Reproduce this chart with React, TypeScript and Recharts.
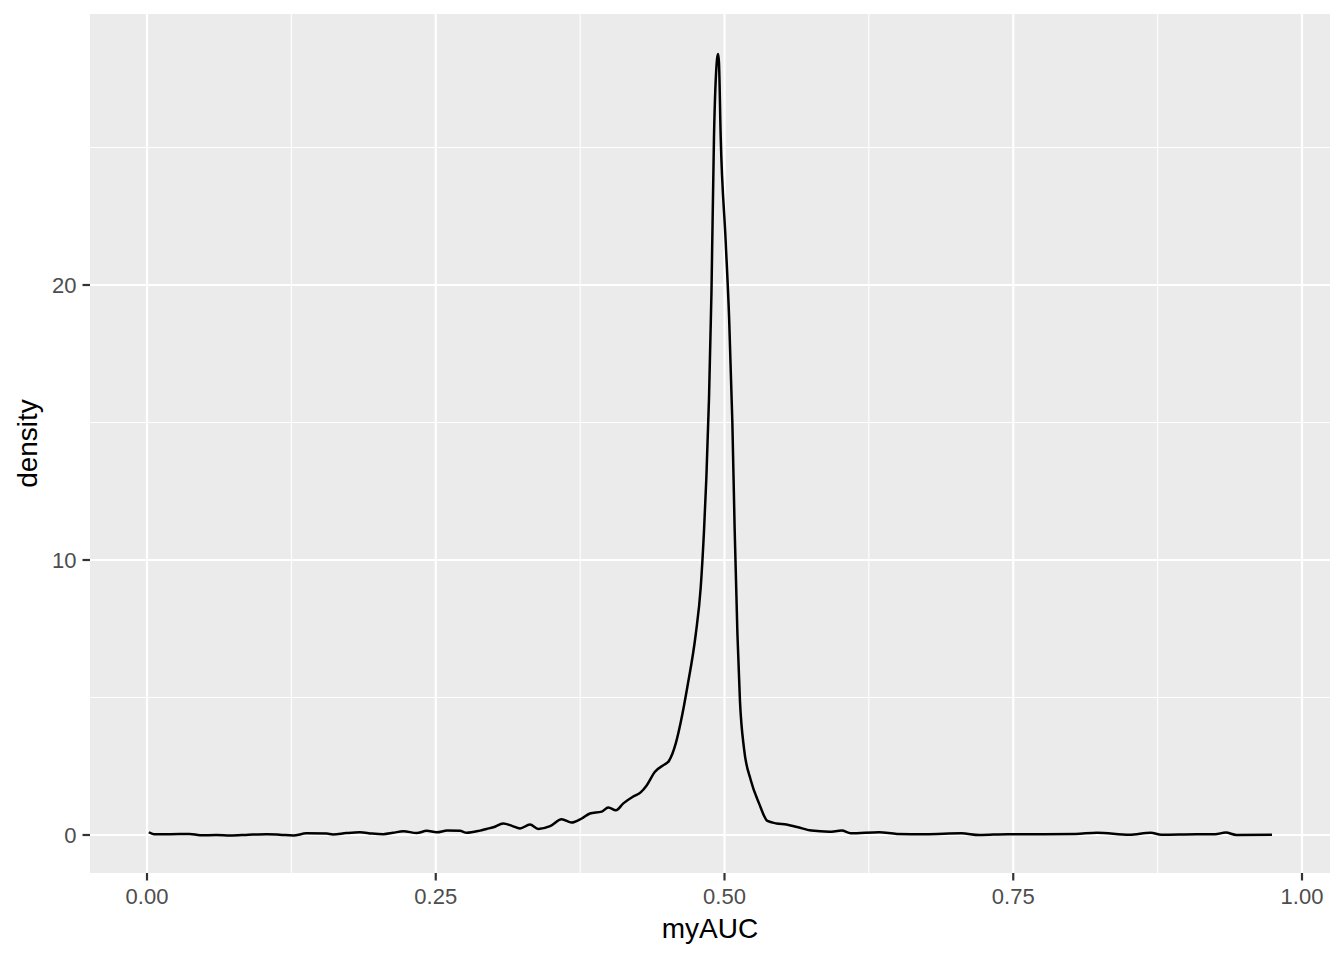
import { LineChart, Line, XAxis, YAxis, CartesianGrid, ReferenceLine, Label } from 'recharts';

const myAUC = [
  0.0016, 0.006, 0.02, 0.037, 0.046, 0.06, 0.072, 0.088, 0.1036, 0.115,
  0.1267, 0.138, 0.1556, 0.161, 0.1725, 0.1844, 0.195, 0.2046, 0.213, 0.222,
  0.2335, 0.2422, 0.2508, 0.26, 0.271, 0.2768, 0.2883, 0.294, 0.2998, 0.3085,
  0.316, 0.323, 0.3316, 0.3388, 0.349, 0.359, 0.3677, 0.3764, 0.3835, 0.3937,
  0.3994, 0.406, 0.4124, 0.421, 0.4274, 0.4326, 0.4398, 0.4475, 0.452, 0.4578,
  0.4621, 0.4679, 0.4751, 0.4794, 0.4823, 0.4843, 0.4866, 0.4887, 0.4909, 0.4935,
  0.4944, 0.4952, 0.4967, 0.501, 0.504, 0.5068, 0.5088, 0.5112, 0.5134, 0.5169,
  0.5227, 0.53, 0.5371, 0.5452, 0.5536, 0.5628, 0.5752, 0.5907, 0.6015, 0.6093,
  0.634, 0.6494, 0.674, 0.705, 0.7206, 0.7454, 0.7763, 0.804, 0.8225, 0.8505,
  0.869, 0.8783, 0.9091, 0.9247, 0.934, 0.9432, 0.974,
];

const density = [
  0.1, 0.03, 0.03, 0.04, -0.01, 0.0, -0.02, 0.01, 0.03, 0.01,
  -0.02, 0.06, 0.05, 0.02, 0.07, 0.1, 0.05, 0.03, 0.08, 0.14,
  0.07, 0.15, 0.1, 0.16, 0.15, 0.08, 0.16, 0.22, 0.28, 0.42,
  0.33, 0.24, 0.38, 0.22, 0.32, 0.57, 0.45, 0.6, 0.78, 0.85,
  1.0, 0.9, 1.15, 1.4, 1.55, 1.8, 2.3, 2.55, 2.7, 3.33,
  4.1, 5.4, 7.3, 9.0, 11.1, 13.0, 15.9, 19.7, 25.4, 28.2,
  28.4, 28.1, 25.4, 21.6, 18.8, 15.0, 11.1, 7.3, 4.86, 3.14,
  2.0, 1.14, 0.51, 0.42, 0.38, 0.29, 0.16, 0.12, 0.16, 0.06,
  0.1, 0.04, 0.03, 0.06, 0.0, 0.03, 0.03, 0.04, 0.08, 0.01,
  0.08, 0.01, 0.03, 0.03, 0.09, 0.0, 0.01,
];

const xTicks = [0, 0.25, 0.5, 0.75, 1];
const xMinor = [0.125, 0.375, 0.625, 0.875];
const yTicks = [0, 10, 20];
const yMinor = [5, 15, 25];

const data = myAUC.map((x, i) => ({ myAUC: x, density: density[i] }));

const font = '"Liberation Sans", Arial, sans-serif';

// rotated y title, baseline on the right side
function YTitle(props: any) {
  const vb = props.viewBox;
  const cx = 37;
  const cy = vb.y + vb.height / 2;
  return (
    <text
      x={cx}
      y={cy}
      transform={`rotate(-90, ${cx}, ${cy})`}
      textAnchor="middle"
      fontSize={28}
      fontFamily={font}
      fill="#000"
    >
      density
    </text>
  );
}

export default function App() {
  return (
    <div style={{ position: 'absolute', left: 0, top: 0, width: 1344, height: 960, background: '#fff' }}>
      <LineChart
        width={1344}
        height={960}
        data={data}
        margin={{ top: 14, right: 14, bottom: 0, left: 30 }}
      >
        <CartesianGrid fill="#EBEBEB" stroke="none" />
        {xMinor.map((v) => (
          <ReferenceLine key={`xm${v}`} x={v} stroke="#fff" strokeWidth={1.1} />
        ))}
        {yMinor.map((v) => (
          <ReferenceLine key={`ym${v}`} y={v} stroke="#fff" strokeWidth={1.1} />
        ))}
        {xTicks.map((v) => (
          <ReferenceLine key={`x${v}`} x={v} stroke="#fff" strokeWidth={2.2} />
        ))}
        {yTicks.map((v) => (
          <ReferenceLine key={`y${v}`} y={v} stroke="#fff" strokeWidth={2.2} />
        ))}
        <XAxis
          dataKey="myAUC"
          type="number"
          domain={[-0.04935, 1.02424]}
          ticks={xTicks}
          allowDataOverflow
          tickFormatter={(v: number) => v.toFixed(2)}
          axisLine={false}
          tickLine={{ stroke: '#333333', strokeWidth: 2.2 }}
          tickSize={7.5}
          tickMargin={8}
          height={87}
          tick={{ fill: '#4D4D4D', fontSize: 22, fontFamily: font }}
        >
          <Label
            value="myAUC"
            position="insideTop"
            offset={45}
            style={{ fontSize: 28, fontFamily: font, fill: '#000' }}
          />
        </XAxis>
        <YAxis
          type="number"
          domain={[-1.382, 29.855]}
          ticks={yTicks}
          allowDataOverflow
          axisLine={false}
          tickLine={{ stroke: '#333333', strokeWidth: 2.2 }}
          tickSize={7.5}
          tickMargin={6}
          width={60}
          tick={{ fill: '#4D4D4D', fontSize: 22, fontFamily: font }}
        >
          <Label content={<YTitle />} />
        </YAxis>
        <Line
          type="monotone"
          dataKey="density"
          stroke="#000"
          strokeWidth={2.5}
          dot={false}
          isAnimationActive={false}
        />
      </LineChart>
    </div>
  );
}
